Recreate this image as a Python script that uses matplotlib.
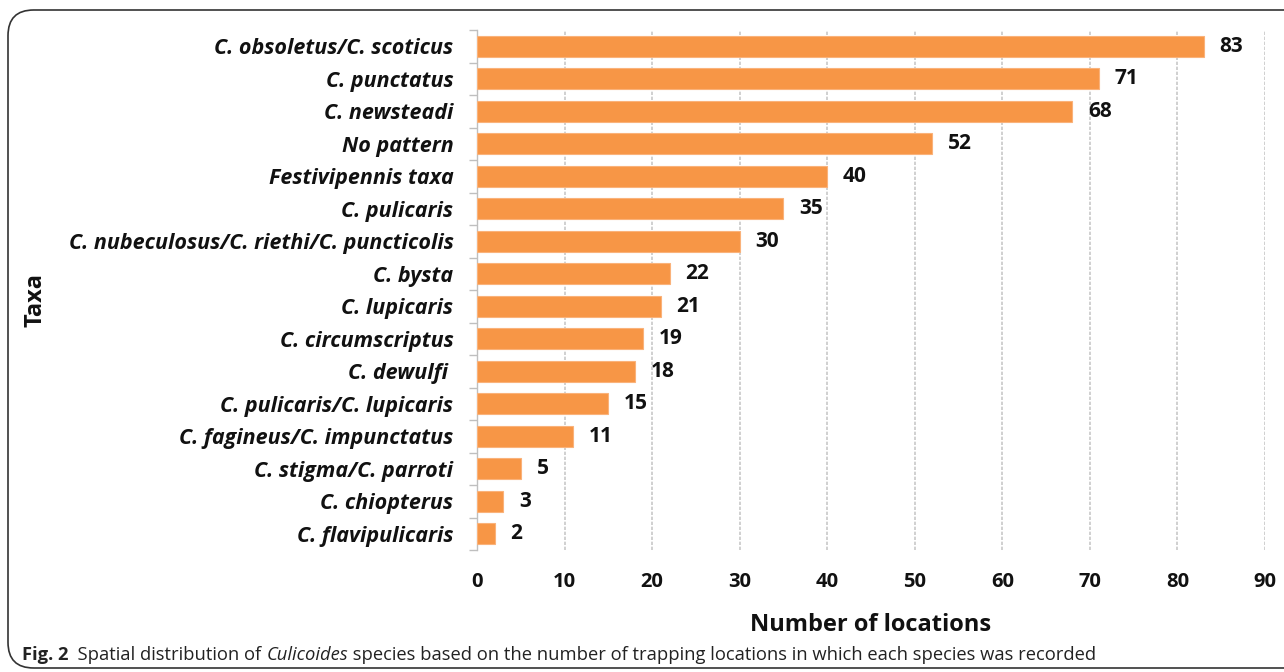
import matplotlib
matplotlib.use("Agg")
import matplotlib.pyplot as plt
from matplotlib.patches import FancyBboxPatch
import numpy as np

taxa = ["C. obsoletus/C. scoticus", "C. punctatus", "C. newsteadi", "No pattern",
        "Festivipennis taxa", "C. pulicaris", "C. nubeculosus/C. riethi/C. puncticolis",
        "C. bysta", "C. lupicaris", "C. circumscriptus", "C. dewulfi ",
        "C. pulicaris/C. lupicaris", "C. fagineus/C. impunctatus", "C. stigma/C. parroti",
        "C. chiopterus", "C. flavipulicaris"]
counts = [83, 71, 68, 52, 40, 35, 30, 22, 21, 19, 18, 15, 11, 5, 3, 2]
xticks = [0, 10, 20, 30, 40, 50, 60, 70, 80, 90]

plt.rcParams['font.family'] = ['Open Sans', 'DejaVu Sans']

fig = plt.figure(figsize=(12.84, 6.72), dpi=100)
ax = fig.add_axes([477/1284, 1-550/672, (1265-477)/1284, 520/672])

y = np.arange(len(taxa))
ax.barh(y, counts, height=0.65, color="#F79646", edgecolor="#FAB27A", linewidth=0.8, zorder=3)
for yi, c in zip(y, counts):
    ax.text(c + 1.8, yi, str(c), va="center", ha="left", fontsize=15, fontweight="bold", color="#111111")

ax.set_ylim(len(taxa) - 0.5, -0.5)
ax.set_xlim(0, 90)
ax.set_yticks(y)
ax.set_yticklabels(taxa, fontsize=15.5, fontweight="bold", fontstyle="italic", color="#111111")
ax.set_yticks(np.arange(-0.5, len(taxa)), minor=True)
ax.tick_params(axis="y", which="major", length=0, pad=17)
ax.tick_params(axis="y", which="minor", length=6, color="#BFBFBF", width=1)
ax.set_xticks(xticks)
ax.set_xticklabels([str(t) for t in xticks], fontsize=14.5, fontweight="bold", color="#111111")
ax.tick_params(axis="x", length=0, pad=16)
ax.grid(axis="x", color="#C8C8C8", linestyle=(0, (2, 1)), linewidth=1.2, zorder=0)
for s in ["top", "right", "bottom"]:
    ax.spines[s].set_visible(False)
ax.spines["left"].set_color("#BFBFBF")
ax.spines["left"].set_linewidth(1)

ax.set_xlabel("Number of locations", fontsize=17, fontweight="bold", labelpad=15, color="#111111")
fig.text(35/1284, 1-300/672, "Taxa", rotation=90, fontsize=17, fontweight="bold", va="center", ha="center",
         color="#111111")

# border
box = FancyBboxPatch((8/1284, 4/672), 1.2, 1-10/672 - 4/672,
                     boxstyle="round,pad=0,rounding_size=0.02", transform=fig.transFigure,
                     fill=False, edgecolor="#333333", linewidth=1.2, mutation_aspect=1284/672)
fig.add_artist(box)

# caption
fig.canvas.draw()
renderer = fig.canvas.get_renderer()
xpos = 22/1284
ycap = 1-655/672
parts = [("Fig. 2", "bold", "normal"), ("  Spatial distribution of ", "normal", "normal"),
         ("Culicoides", "normal", "italic"),
         (" species based on the number of trapping locations in which each species was recorded", "normal", "normal")]
for txt, w, st in parts:
    t = fig.text(xpos, ycap, txt, fontsize=13.2, fontweight=w, fontstyle=st, va="center", ha="left",
                 color="#222222", family=["Open Sans", "DejaVu Sans"])
    bb = t.get_window_extent(renderer)
    xpos += bb.width / fig.bbox.width

fig.savefig("out.png", dpi=100)
